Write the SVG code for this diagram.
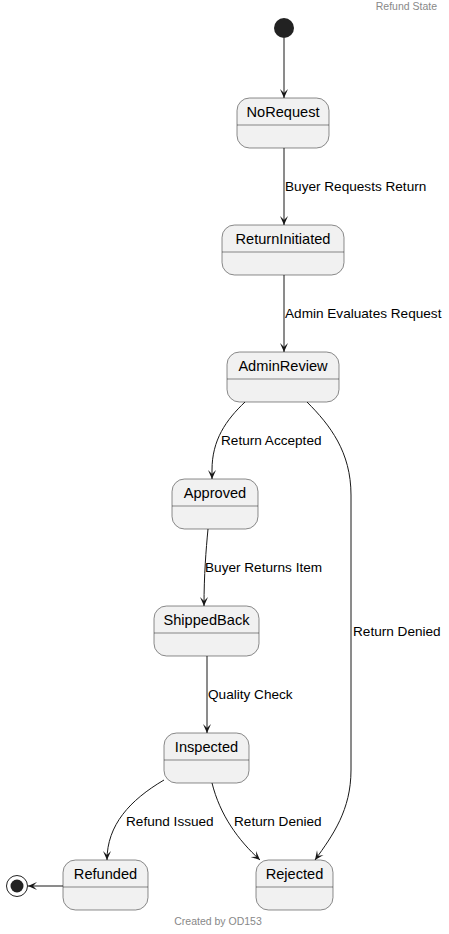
<svg xmlns="http://www.w3.org/2000/svg" width="449" height="934" viewBox="0 0 449 934">
<style>
.st rect{fill:#F1F1F1;stroke:#181818;stroke-width:0.5}
.st line{stroke:#181818;stroke-width:0.5}
.name{font-family:"Liberation Sans",Arial,sans-serif;font-size:14.6px;fill:#000;text-anchor:middle}
.lbl{font-family:"Liberation Sans",Arial,sans-serif;font-size:13.6px;fill:#000}
.edge{fill:none;stroke:#181818;stroke-width:1;marker-end:url(#arr)}
.meta{font-family:"Liberation Sans",Arial,sans-serif;font-size:10.5px;fill:#888}
</style>
<defs>
<marker id="arr" viewBox="-10 -5 11 10" refX="0" refY="0" markerWidth="11" markerHeight="10" markerUnits="userSpaceOnUse" orient="auto">
<path d="M0,0 L-9,-4 L-5,0 L-9,4 Z" fill="#181818"/>
</marker>
</defs>
<rect width="449" height="934" fill="#fff"/>
<text class="meta" x="437" y="10" text-anchor="end">Refund State</text>
<text class="meta" x="218" y="925" text-anchor="middle">Created by OD153</text>

<g id="start"><circle cx="284" cy="28" r="10" fill="#222"/></g>
<g id="end"><circle cx="17" cy="886" r="10.5" fill="#fff" stroke="#222" stroke-width="1"/><circle cx="17" cy="886" r="6.5" fill="#222"/></g>

<g id="NoRequest" class="st"><rect x="237" y="98" width="92" height="50" rx="12.5"/><line x1="237" y1="125" x2="329" y2="125"/><text class="name" x="283" y="117">NoRequest</text></g>
<g id="ReturnInitiated" class="st"><rect x="222" y="225" width="122" height="50" rx="12.5"/><line x1="222" y1="252" x2="344" y2="252"/><text class="name" x="283" y="244">ReturnInitiated</text></g>
<g id="AdminReview" class="st"><rect x="227" y="352" width="112" height="50" rx="12.5"/><line x1="227" y1="379" x2="339" y2="379"/><text class="name" x="283" y="371">AdminReview</text></g>
<g id="Approved" class="st"><rect x="172" y="479" width="86" height="50" rx="12.5"/><line x1="172" y1="506" x2="258" y2="506"/><text class="name" x="215" y="498">Approved</text></g>
<g id="ShippedBack" class="st"><rect x="154" y="606" width="105" height="50" rx="12.5"/><line x1="154" y1="633" x2="259" y2="633"/><text class="name" x="206.5" y="625">ShippedBack</text></g>
<g id="Inspected" class="st"><rect x="164" y="733" width="85" height="50" rx="12.5"/><line x1="164" y1="760" x2="249" y2="760"/><text class="name" x="206.5" y="752">Inspected</text></g>
<g id="Refunded" class="st"><rect x="63" y="860" width="85" height="50" rx="12.5"/><line x1="63" y1="887" x2="148" y2="887"/><text class="name" x="105.5" y="879">Refunded</text></g>
<g id="Rejected" class="st"><rect x="256" y="860" width="77" height="50" rx="12.5"/><line x1="256" y1="887" x2="333" y2="887"/><text class="name" x="294.5" y="879">Rejected</text></g>

<g id="connectors">
<path class="edge" d="M284,38 L284,98"/>
<path class="edge" d="M284,148 L284,225"/>
<text class="lbl" x="285" y="191">Buyer Requests Return</text>
<path class="edge" d="M284,275 L284,352"/>
<text class="lbl" x="285" y="318">Admin Evaluates Request</text>
<path class="edge" d="M245,402 C226,420 212,440 212,470 L212,479"/>
<text class="lbl" x="221" y="445">Return Accepted</text>
<path class="edge" d="M307,402 C330,425 351,452 351,495 L351,770 C351,810 333,835 315,860"/>
<text class="lbl" x="353" y="636">Return Denied</text>
<path class="edge" d="M208,529 C206,550 204,575 204,606"/>
<text class="lbl" x="205" y="572">Buyer Returns Item</text>
<path class="edge" d="M207,656 L207,733"/>
<text class="lbl" x="208" y="699">Quality Check</text>
<path class="edge" d="M164,780 C130,800 107,825 107,860"/>
<text class="lbl" x="126" y="826">Refund Issued</text>
<path class="edge" d="M212,783 C220,815 238,840 260,860"/>
<text class="lbl" x="234" y="826">Return Denied</text>
<path class="edge" d="M63,886 L28,886"/>
</g>
</svg>
